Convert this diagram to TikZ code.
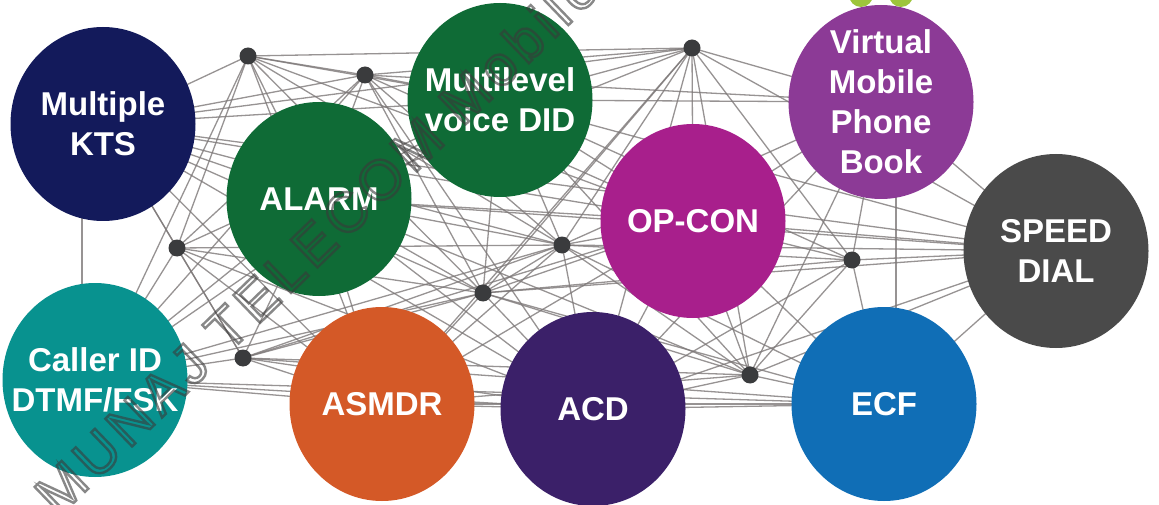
\documentclass[tikz,border=0pt]{standalone}
\usepackage{fontspec}
\setmainfont{Liberation Sans}
\newfontfamily\wmfont[LetterSpace=10]{Liberation Sans}
\usetikzlibrary{shapes.geometric,backgrounds}
\definecolor{cKTS}{HTML}{131A5B}
\definecolor{cGreen}{HTML}{0F6B36}
\definecolor{cVMPB}{HTML}{8C3A96}
\definecolor{cOPCON}{HTML}{A81F8C}
\definecolor{cSPEED}{HTML}{4A4A4A}
\definecolor{cCALLER}{HTML}{08928F}
\definecolor{cASMDR}{HTML}{D45927}
\definecolor{cACD}{HTML}{3B2069}
\definecolor{cECF}{HTML}{106EB6}
\definecolor{cLime}{HTML}{9DC53B}
\definecolor{dotc}{HTML}{3A3B3D}
\definecolor{webc}{HTML}{7D7878}
\definecolor{wmc}{HTML}{3A3A3A}
\begin{document}
\begin{tikzpicture}[x=1pt,y=-1pt,
  bubble/.style={ellipse,draw=none,fill=#1,minimum width=185pt,minimum height=194pt,inner sep=0pt},
  btext/.style={text=white,font=\fontsize{33}{40}\selectfont\bfseries,align=center,inner sep=0pt},
  dot/.style={circle,fill=dotc,minimum size=17pt,inner sep=0pt},
  web/.style={draw=webc,line width=1.3pt,opacity=0.8}]
\useasboundingbox (0,0) rectangle (1159,505);
% small lime shapes at the top edge
\fill[cLime] (861,-5) circle (12);
\fill[cLime] (901,-5) circle (12);
% bubbles
\node[bubble=cKTS] (KTS) at (103,124) {};
\node[bubble=cGreen] (ALARM) at (319,199) {};
\node[bubble=cGreen] (DID) at (500,100) {};
\node[bubble=cVMPB] (VMPB) at (881,102) {};
\node[bubble=cOPCON] (OPCON) at (693,221) {};
\node[bubble=cSPEED] (SPEED) at (1056,251) {};
\node[bubble=cCALLER] (CALLER) at (95,380) {};
\node[bubble=cASMDR] (ASMDR) at (382,404) {};
\node[bubble=cACD] (ACD) at (593,409) {};
\node[bubble=cECF] (ECF) at (884,404) {};
% labels
\node[btext] (tKTS) at (KTS) {Multiple\\KTS};
\node[btext] (tALARM) at (ALARM) {ALARM};
\node[btext] (tDID) at (DID) {Multilevel\\voice DID};
\node[btext] (tVMPB) at (VMPB) {Virtual\\Mobile\\Phone\\Book};
\node[btext] (tOPCON) at (OPCON) {OP-CON};
\node[btext] (tSPEED) at (SPEED) {SPEED\\DIAL};
\node[btext] (tCALLER) at (CALLER) {Caller ID\\DTMF/FSK};
\node[btext] (tASMDR) at (ASMDR) {ASMDR};
\node[btext] (tACD) at (ACD) {ACD};
\node[btext] (tECF) at (ECF) {ECF};
% network dots
\node[dot] (d1) at (248,56) {};
\node[dot] (d2) at (365,75) {};
\node[dot] (d3) at (692,48) {};
\node[dot] (d4) at (177,248) {};
\node[dot] (d5) at (562,245) {};
\node[dot] (d6) at (483,293) {};
\node[dot] (d7) at (852,260) {};
\node[dot] (d8) at (243,358) {};
\node[dot] (d9) at (750,375) {};
% hidden anchor points behind bubbles
\coordinate (hk) at (82,150);
\coordinate (hc) at (82,350);
\coordinate (hv) at (896,150);
\coordinate (he) at (896,350);
% web of connectors behind everything
\begin{scope}[on background layer]
\fill[white] (0,0) rectangle (1159,505);
\foreach \a/\b in {
  KTS/d1,KTS/d2,KTS/DID,KTS/d4,KTS/ALARM,KTS/d5,KTS/OPCON,KTS/d6,KTS/ASMDR,KTS/d8,KTS/d3,KTS/SPEED,KTS/ACD,
  hk/hc,hv/he,
  d1/d2,d1/d3,d1/DID,d1/ALARM,d1/d4,d1/CALLER,d1/ASMDR,d1/d6,d1/OPCON,d1/d5,
  d2/DID,d2/ALARM,d2/d4,d2/d6,d2/d5,d2/ACD,d2/VMPB,d2/d3,d2/OPCON,d2/CALLER,
  d3/DID,d3/ALARM,d3/d5,d3/d6,d3/OPCON,d3/d9,d3/d7,d3/VMPB,d3/ACD,d3/ASMDR,
  VMPB/DID,VMPB/OPCON,VMPB/d5,VMPB/d7,VMPB/d9,VMPB/SPEED,VMPB/ACD,
  SPEED/OPCON,SPEED/d7,SPEED/d5,SPEED/d9,SPEED/ECF,SPEED/DID,SPEED/d3,SPEED/ALARM,SPEED/ACD,SPEED/d6,
  ECF/d9,ECF/ACD,ECF/ASMDR,ECF/CALLER,ECF/OPCON,ECF/d7,ECF/d5,ECF/d6,ECF/d8,
  CALLER/d4,CALLER/d8,CALLER/ALARM,CALLER/ASMDR,CALLER/ACD,CALLER/d6,CALLER/d5,CALLER/DID,
  d8/d4,d8/ALARM,d8/d6,d8/d5,d8/ASMDR,d8/ACD,d8/OPCON,d8/d9,
  ASMDR/ALARM,ASMDR/d6,ASMDR/d5,ASMDR/ACD,ASMDR/d9,ASMDR/d4,ASMDR/OPCON,
  ACD/d6,ACD/d5,ACD/OPCON,ACD/d9,ACD/ALARM,ACD/d4,ACD/d7,
  d5/DID,d5/ALARM,d5/OPCON,d5/d6,d5/d7,d5/d9,d5/d4,
  d6/DID,d6/ALARM,d6/d4,d6/OPCON,d6/d9,d6/d7,
  d7/OPCON,d7/d9,d7/DID,
  d9/OPCON,d9/DID,d9/ALARM,
  OPCON/DID,OPCON/ALARM,ALARM/DID,d4/DID}
  \draw[web] (\a.center) -- (\b.center);
\end{scope}
% watermark
\begin{scope}[opacity=0.6]
\node[anchor=base west,rotate=44,text=wmc,inner sep=0pt,font=\wmfont\fontsize{56}{56}\selectfont] (wm) at (58,518)
  {\special{pdf:literal direct 1 Tr 2.4 w}MUNAJ TELECOM Mobile\special{pdf:literal direct 0 Tr}};
\end{scope}
\end{tikzpicture}
\end{document}
